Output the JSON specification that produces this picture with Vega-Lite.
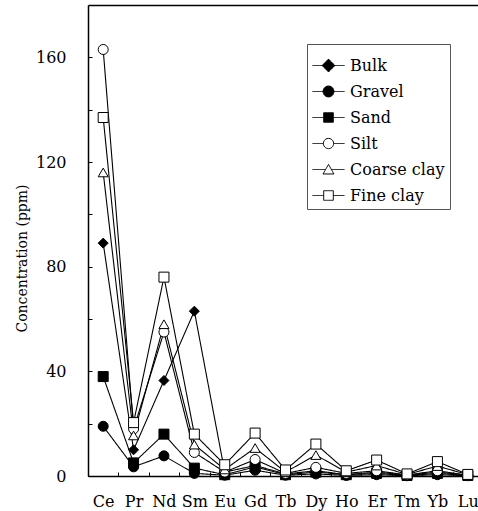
{
  "$schema": "https://vega.github.io/schema/vega-lite/v6.json",
  "autosize": "none",
  "padding": {"left": 88, "top": 5, "right": 0, "bottom": 35},
  "width": 390,
  "height": 471,
  "background": "white",
  "config": {
    "view": {"stroke": null},
    "font": "DejaVu Serif"
  },
  "data": {
    "values": [
      {"element": "Ce", "series": "Bulk", "ppm": 89},
      {"element": "Pr", "series": "Bulk", "ppm": 10},
      {"element": "Nd", "series": "Bulk", "ppm": 36.5},
      {"element": "Sm", "series": "Bulk", "ppm": 63},
      {"element": "Eu", "series": "Bulk", "ppm": 1.5},
      {"element": "Gd", "series": "Bulk", "ppm": 4},
      {"element": "Tb", "series": "Bulk", "ppm": 0.8},
      {"element": "Dy", "series": "Bulk", "ppm": 2},
      {"element": "Ho", "series": "Bulk", "ppm": 0.5},
      {"element": "Er", "series": "Bulk", "ppm": 1.5},
      {"element": "Tm", "series": "Bulk", "ppm": 0.3},
      {"element": "Yb", "series": "Bulk", "ppm": 1.5},
      {"element": "Lu", "series": "Bulk", "ppm": 0.3},
      {"element": "Ce", "series": "Gravel", "ppm": 19},
      {"element": "Pr", "series": "Gravel", "ppm": 3.5},
      {"element": "Nd", "series": "Gravel", "ppm": 7.7},
      {"element": "Sm", "series": "Gravel", "ppm": 1},
      {"element": "Eu", "series": "Gravel", "ppm": 0.3},
      {"element": "Gd", "series": "Gravel", "ppm": 2.2},
      {"element": "Tb", "series": "Gravel", "ppm": 0.3},
      {"element": "Dy", "series": "Gravel", "ppm": 0.8},
      {"element": "Ho", "series": "Gravel", "ppm": 0.2},
      {"element": "Er", "series": "Gravel", "ppm": 0.5},
      {"element": "Tm", "series": "Gravel", "ppm": 0.1},
      {"element": "Yb", "series": "Gravel", "ppm": 0.5},
      {"element": "Lu", "series": "Gravel", "ppm": 0.1},
      {"element": "Ce", "series": "Sand", "ppm": 38},
      {"element": "Pr", "series": "Sand", "ppm": 5},
      {"element": "Nd", "series": "Sand", "ppm": 16},
      {"element": "Sm", "series": "Sand", "ppm": 3},
      {"element": "Eu", "series": "Sand", "ppm": 0.5},
      {"element": "Gd", "series": "Sand", "ppm": 3.5},
      {"element": "Tb", "series": "Sand", "ppm": 0.5},
      {"element": "Dy", "series": "Sand", "ppm": 1.5},
      {"element": "Ho", "series": "Sand", "ppm": 0.5},
      {"element": "Er", "series": "Sand", "ppm": 1},
      {"element": "Tm", "series": "Sand", "ppm": 0.2},
      {"element": "Yb", "series": "Sand", "ppm": 1},
      {"element": "Lu", "series": "Sand", "ppm": 0.2},
      {"element": "Ce", "series": "Silt", "ppm": 163},
      {"element": "Pr", "series": "Silt", "ppm": 18},
      {"element": "Nd", "series": "Silt", "ppm": 55},
      {"element": "Sm", "series": "Silt", "ppm": 9},
      {"element": "Eu", "series": "Silt", "ppm": 1.5},
      {"element": "Gd", "series": "Silt", "ppm": 6.3},
      {"element": "Tb", "series": "Silt", "ppm": 1},
      {"element": "Dy", "series": "Silt", "ppm": 3.3},
      {"element": "Ho", "series": "Silt", "ppm": 1},
      {"element": "Er", "series": "Silt", "ppm": 2},
      {"element": "Tm", "series": "Silt", "ppm": 0.4},
      {"element": "Yb", "series": "Silt", "ppm": 2},
      {"element": "Lu", "series": "Silt", "ppm": 0.3},
      {"element": "Ce", "series": "Coarse clay", "ppm": 116},
      {"element": "Pr", "series": "Coarse clay", "ppm": 15.5},
      {"element": "Nd", "series": "Coarse clay", "ppm": 58},
      {"element": "Sm", "series": "Coarse clay", "ppm": 12},
      {"element": "Eu", "series": "Coarse clay", "ppm": 2.5},
      {"element": "Gd", "series": "Coarse clay", "ppm": 10.7},
      {"element": "Tb", "series": "Coarse clay", "ppm": 1.5},
      {"element": "Dy", "series": "Coarse clay", "ppm": 8},
      {"element": "Ho", "series": "Coarse clay", "ppm": 1.5},
      {"element": "Er", "series": "Coarse clay", "ppm": 4},
      {"element": "Tm", "series": "Coarse clay", "ppm": 0.6},
      {"element": "Yb", "series": "Coarse clay", "ppm": 3.8},
      {"element": "Lu", "series": "Coarse clay", "ppm": 0.5},
      {"element": "Ce", "series": "Fine clay", "ppm": 137},
      {"element": "Pr", "series": "Fine clay", "ppm": 20.4},
      {"element": "Nd", "series": "Fine clay", "ppm": 76},
      {"element": "Sm", "series": "Fine clay", "ppm": 16},
      {"element": "Eu", "series": "Fine clay", "ppm": 4.3},
      {"element": "Gd", "series": "Fine clay", "ppm": 16.4},
      {"element": "Tb", "series": "Fine clay", "ppm": 2.3},
      {"element": "Dy", "series": "Fine clay", "ppm": 12.2},
      {"element": "Ho", "series": "Fine clay", "ppm": 2},
      {"element": "Er", "series": "Fine clay", "ppm": 6.1},
      {"element": "Tm", "series": "Fine clay", "ppm": 0.8},
      {"element": "Yb", "series": "Fine clay", "ppm": 5.5},
      {"element": "Lu", "series": "Fine clay", "ppm": 0.6}
    ]
  },
  "layer": [
    {
      "mark": {"type": "line", "color": "black", "strokeWidth": 1.1},
      "encoding": {
        "strokeDash": {
          "field": "series",
          "type": "nominal",
          "scale": {
            "domain": ["Bulk", "Gravel", "Sand", "Silt", "Coarse clay", "Fine clay"],
            "range": [[1, 0], [1, 0], [1, 0], [1, 0], [1, 0], [1, 0]]
          },
          "legend": {
            "title": null,
            "orient": "none",
            "legendX": 219,
            "legendY": 39,
            "padding": 5,
            "strokeColor": "#555555",
            "symbolSize": 1024,
            "symbolStrokeColor": "black",
            "symbolStrokeWidth": 1,
            "symbolOpacity": 1,
            "symbolDash": [1, 0],
            "symbolType": {"expr": "datum.value === 'Bulk' ? 'M-1,0H1M0,-0.4L0.4,0L0,0.4L-0.4,0Z' : datum.value === 'Gravel' ? 'M-1,0H1M0.34,0A0.34,0.34,0,1,1,-0.34,0A0.34,0.34,0,1,1,0.34,0Z' : datum.value === 'Sand' ? 'M-1,0H1M-0.3,-0.3H0.3V0.3H-0.3Z' : datum.value === 'Silt' ? 'M-1,0H-0.32M0.32,0H1M0.32,0A0.32,0.32,0,1,1,-0.32,0A0.32,0.32,0,1,1,0.32,0Z' : datum.value === 'Coarse clay' ? 'M-1,0H-0.18M0.18,0H1M0,-0.32L0.34,0.28L-0.34,0.28Z' : 'M-1,0H-0.3M0.3,0H1M-0.3,-0.3H0.3V0.3H-0.3Z'"},
            "symbolFillColor": {"expr": "indexof(['Bulk','Gravel','Sand'], datum.value) >= 0 ? 'black' : 'white'"},
            "labelFont": "DejaVu Serif",
            "labelFontSize": 16,
            "labelColor": "black",
            "labelOffset": 5,
            "rowPadding": 1
          }
        },
        "x": {
          "field": "element",
          "type": "nominal",
          "sort": ["Ce", "Pr", "Nd", "Sm", "Eu", "Gd", "Tb", "Dy", "Ho", "Er", "Tm", "Yb", "Lu"],
          "scale": {"type": "band", "range": [0, 395], "paddingInner": 0, "paddingOuter": 0},
          "axis": {
            "orient": "bottom",
            "title": null,
            "labelAngle": 0,
            "labelFont": "DejaVu Serif",
            "labelFontSize": 16,
            "labelColor": "black",
            "labelPadding": 21,
            "tickBand": "extent",
            "tickSize": -4,
            "tickColor": "black",
            "domainColor": "black",
            "domainWidth": 1.5,
            "grid": false
          }
        },
        "y": {
          "field": "ppm",
          "type": "quantitative",
          "scale": {"domain": [0, 180], "nice": false, "zero": true},
          "axis": {
            "title": "Concentration (ppm)",
            "titleFont": "DejaVu Serif",
            "titleFontSize": 14,
            "titleFontWeight": "normal",
            "titleColor": "black",
            "titlePadding": 6,
            "titleY": 253,
            "values": [0, 20, 40, 60, 80, 100, 120, 140, 160],
            "labelExpr": "datum.value % 40 === 0 ? datum.label : ''",
            "labelFont": "DejaVu Serif",
            "labelFontSize": 16,
            "labelColor": "black",
            "labelPadding": 26,
            "tickSize": -4,
            "tickColor": "black",
            "domainColor": "black",
            "domainWidth": 1.5,
            "grid": false
          }
        }
      }
    },
    {
      "transform": [{"calculate": "datum.series", "as": "kind"}],
      "mark": {"type": "point", "filled": true, "stroke": "black", "strokeWidth": 1, "size": 100, "opacity": 1, "fillOpacity": 1},
      "encoding": {
        "x": {
          "field": "element",
          "type": "nominal",
          "sort": ["Ce", "Pr", "Nd", "Sm", "Eu", "Gd", "Tb", "Dy", "Ho", "Er", "Tm", "Yb", "Lu"],
          "scale": {"type": "band", "range": [0, 395], "paddingInner": 0, "paddingOuter": 0},
          "axis": {"orient": "top", "title": null, "labels": false, "ticks": false, "domain": true, "domainColor": "black", "domainWidth": 1.5, "grid": false}
        },
        "y": {
          "field": "ppm",
          "type": "quantitative",
          "scale": {"domain": [0, 180], "nice": false, "zero": true},
          "axis": null
        },
        "shape": {
          "field": "kind",
          "type": "nominal",
          "scale": {
            "domain": ["Fine clay", "Coarse clay", "Silt", "Sand", "Gravel", "Bulk"],
            "range": ["square", "triangle-up", "circle", "square", "circle", "diamond"]
          },
          "legend": null
        },
        "color": {
          "field": "kind",
          "type": "nominal",
          "scale": {
            "domain": ["Fine clay", "Coarse clay", "Silt", "Sand", "Gravel", "Bulk"],
            "range": ["white", "white", "white", "black", "black", "black"]
          },
          "legend": null
        }
      }
    }
  ],
  "resolve": {"axis": {"x": "independent", "y": "independent"}}
}
